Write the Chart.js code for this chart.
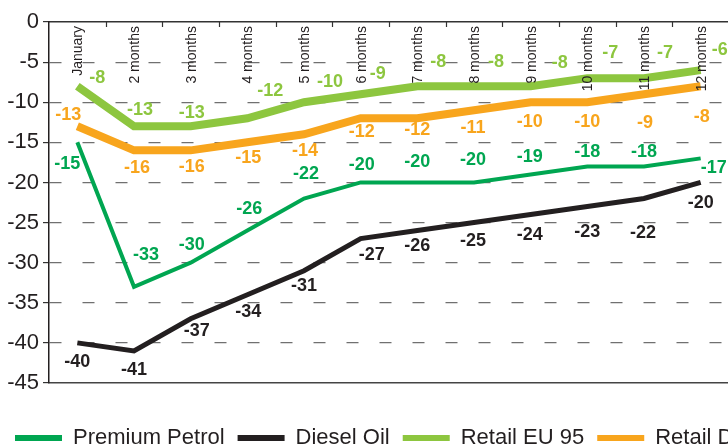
<!DOCTYPE html>
<html>
<head>
<meta charset="utf-8">
<script src="https://cdn.jsdelivr.net/npm/chart.js@4.4.1/dist/chart.umd.min.js"></script>
<style>
  html, body { margin: 0; padding: 0; background: #fff; overflow: hidden; width: 728px; height: 446px; }
  #wrap { position: absolute; left: 0; top: 0; width: 900px; height: 459px; }
</style>
</head>
<body>
<div id="wrap"><canvas id="chart" width="900" height="459"></canvas></div>
<script>
// Period labels along the top axis
const categories = ['January', '2 months', '3 months', '4 months', '5 months', '6 months',
  '7 months', '8 months', '9 months', '10 months', '11 months', '12 months'];

// Change per period, %
const premiumPetrol = [-15, -33, -30, -26, -22, -20, -20, -20, -19, -18, -18, -17];
const dieselOil     = [-40, -41, -37, -34, -31, -27, -26, -25, -24, -23, -22, -20];
const retailEU95    = [-8, -13, -13, -12, -10, -9, -8, -8, -8, -7, -7, -6];
const retailDiesel  = [-13, -16, -16, -15, -14, -12, -12, -11, -10, -10, -9, -8];

// Value axis ticks
const yTicks = [0, -5, -10, -15, -20, -25, -30, -35, -40, -45];

// Value-label placement relative to each point (dx, dy in px)
const premiumLabelOffsets = [[-10, 22], [12, -32], [1, -18], [2, -22], [2, -24], [1, -17], [0, -20], [-1, -22], [-1, -17], [0, -14], [0, -14], [13, 10]];
const dieselLabelOffsets  = [[0, 19], [0, 19], [6, 12], [1, 17], [0, 15], [11, 16], [0, 15], [-1, 18], [-1, 20], [0, 26], [-1, 35], [0, 21]];
const eu95LabelOffsets    = [[20, -8], [6, -16], [1, -13], [23, -27], [26, -20], [17, -20], [21, -24], [22, -24], [29, -23], [23, -25], [21, -25], [19, -20]];
const rDieselLabelOffsets = [[-9, -11], [3, 18], [1, 17], [1, 16], [1, 17], [1, 14], [0, 12], [-1, 18], [-1, 20], [0, 20], [1, 29], [1, 31]];

const FONT = "'Liberation Sans', Arial, Helvetica, sans-serif";
const INK = '#231F20';

// Inward tick marks under the top axis, between categories
const periodAxisTicks = {
  id: 'periodAxisTicks',
  beforeDatasetsDraw(chart) {
    const { ctx, chartArea } = chart;
    ctx.save();
    ctx.strokeStyle = '#333';
    ctx.lineWidth = 1.2;
    const step = (chartArea.right - chartArea.left) / categories.length;
    for (let i = 1; i < categories.length; i++) {
      const x = Math.round(chartArea.left + i * step) + 0.5;
      ctx.beginPath();
      ctx.moveTo(x, chartArea.top);
      ctx.lineTo(x, chartArea.top + 5);
      ctx.stroke();
    }
    ctx.restore();
  }
};

// Rotated period names hanging under the top axis (reading bottom-to-top)
const periodAxisLabels = {
  id: 'periodAxisLabels',
  afterDatasetsDraw(chart) {
    const { ctx, chartArea } = chart;
    const xs = chart.scales.x;
    ctx.save();
    ctx.fillStyle = INK;
    ctx.font = `14px ${FONT}`;
    ctx.textAlign = 'right';
    ctx.textBaseline = 'middle';
    categories.forEach((name, i) => {
      const x = xs.getPixelForValue(i);
      ctx.save();
      ctx.translate(x + 1, chartArea.top + 4);
      ctx.rotate(-Math.PI / 2);
      ctx.fillText(name, 0, 0);
      ctx.restore();
    });
    ctx.restore();
  }
};

// Bold value labels next to every point
const valueLabels = {
  id: 'valueLabels',
  afterDatasetsDraw(chart) {
    const { ctx } = chart;
    ctx.save();
    ctx.font = `bold 18px ${FONT}`;
    ctx.textAlign = 'center';
    ctx.textBaseline = 'middle';
    chart.data.datasets.forEach((ds, di) => {
      const meta = chart.getDatasetMeta(di);
      ctx.fillStyle = ds.borderColor;
      meta.data.forEach((pt, i) => {
        const [dx, dy] = ds.labelOffsets[i];
        ctx.fillText(String(ds.data[i]), pt.x + dx, pt.y + dy);
      });
    });
    ctx.restore();
  }
};

new Chart(document.getElementById('chart'), {
  type: 'line',
  data: {
    labels: categories,
    datasets: [
      { label: 'Premium Petrol', data: premiumPetrol, borderColor: '#00A651', borderWidth: 4, labelOffsets: premiumLabelOffsets },
      { label: 'Diesel Oil', data: dieselOil, borderColor: INK, borderWidth: 5, labelOffsets: dieselLabelOffsets },
      { label: 'Retail EU 95', data: retailEU95, borderColor: '#8DC63F', borderWidth: 8, labelOffsets: eu95LabelOffsets },
      { label: 'Retail Diesel', data: retailDiesel, borderColor: '#F8A51D', borderWidth: 8, labelOffsets: rDieselLabelOffsets }
    ].map(d => Object.assign({
      pointRadius: 0, pointHoverRadius: 0, tension: 0, fill: false,
      borderCapStyle: 'butt', borderJoinStyle: 'miter', backgroundColor: d.borderColor
    }, d))
  },
  options: {
    responsive: false,
    animation: false,
    events: [],
    layout: { padding: { left: 2, right: 0, top: 0, bottom: 0 } },
    plugins: {
      tooltip: { enabled: false },
      legend: {
        position: 'bottom',
        align: 'start',
        labels: {
          boxWidth: 47,
          boxHeight: 6,
          padding: 13,
          color: INK,
          font: { family: FONT, size: 22 },
          generateLabels(chart) {
            return chart.data.datasets.map((ds, i) => ({
              text: ds.label, fillStyle: ds.borderColor, strokeStyle: ds.borderColor,
              lineWidth: 0, hidden: false, datasetIndex: i, fontColor: INK
            }));
          }
        }
      }
    },
    scales: {
      x: {
        type: 'category',
        position: 'top',
        offset: true,
        ticks: { display: false },
        grid: { display: false },
        border: { display: true, color: '#333', width: 1.5 },
        afterFit(s) { s.height = 22; }
      },
      x2: {
        type: 'category',
        labels: categories,
        position: 'bottom',
        offset: true,
        ticks: { display: false },
        grid: { display: false },
        border: { display: true, color: '#444', width: 1.5 },
        afterFit(s) { s.height = 31; }
      },
      y: {
        position: 'left',
        min: -45,
        max: 0,
        afterBuildTicks(s) { s.ticks = yTicks.map(v => ({ value: v })); },
        ticks: {
          padding: 4,
          color: INK,
          font: { family: FONT, size: 22 },
          callback: v => String(v)
        },
        grid: {
          color: c => (c.tick && (c.tick.value === 0 || c.tick.value === -45)) ? 'rgba(0,0,0,0)' : '#707070',
          lineWidth: 1.2,
          drawTicks: true,
          tickLength: 6,
          tickColor: '#333',
          tickWidth: 1.2
        },
        border: { display: true, color: INK, width: 1.5, dash: [12, 21] },
        afterFit(s) { s.width = 47; }
      },
      // empty right-hand gutter so the plot ends at the window edge
      yGutter: {
        type: 'linear',
        position: 'right',
        min: -45,
        max: 0,
        ticks: { display: false },
        grid: { display: false, drawTicks: false },
        border: { display: false },
        afterFit(s) { s.width = 171; }
      }
    }
  },
  plugins: [periodAxisTicks, periodAxisLabels, valueLabels]
});
</script>
</body>
</html>
